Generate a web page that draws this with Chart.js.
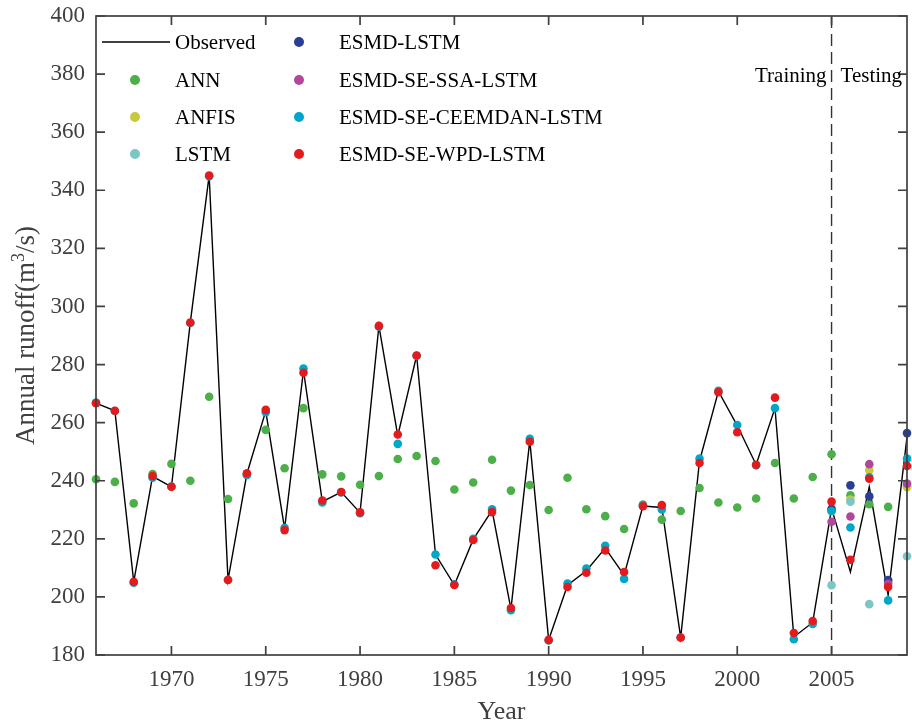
<!DOCTYPE html>
<html>
<head>
<meta charset="utf-8">
<title>Annual runoff</title>
<script src="https://cdn.jsdelivr.net/npm/chart.js@4.4.1/dist/chart.umd.min.js"></script>
<style>
  html, body { margin: 0; padding: 0; background: #fff; }
</style>
</head>
<body>
<canvas id="runoff" width="912" height="726"></canvas>
<script>
// years on the x axis and the labelled ticks
const years = [1966, 1967, 1968, 1969, 1970, 1971, 1972, 1973, 1974, 1975,
               1976, 1977, 1978, 1979, 1980, 1981, 1982, 1983, 1984, 1985,
               1986, 1987, 1988, 1989, 1990, 1991, 1992, 1993, 1994, 1995,
               1996, 1997, 1998, 1999, 2000, 2001, 2002, 2003, 2004, 2005,
               2006, 2007, 2008, 2009];
const testYears = [2005, 2006, 2007, 2008, 2009];
const yearTicks = [1970, 1975, 1980, 1985, 1990, 1995, 2000, 2005];
const runoffTicks = [180, 200, 220, 240, 260, 280, 300, 320, 340, 360, 380, 400];
const splitYear = 2005;

// annual runoff, m3/s
const observed = [266.7, 264.1, 205.2, 241.5, 237.9, 294.5, 345.1, 205.8, 242.4, 264.0,
                  223.5, 278.0, 232.8, 236.1, 229.0, 293.3, 255.5, 283.1, 214.6, 204.1,
                  219.8, 229.8, 195.8, 253.8, 185.2, 204.0, 209.0, 216.8, 207.5, 231.3,
                  230.8, 186.0, 246.8, 270.8, 259.0, 245.5, 265.0, 186.2, 191.2, 230.5,
                  208.6, 237.9, 200.6, 255.0];
const annPred = [240.5, 239.6, 232.2, 242.3, 245.8, 240.0, 268.9, 233.7, 242.0, 257.5,
                 244.3, 265.0, 242.2, 241.5, 238.6, 241.6, 247.5, 248.5, 246.8, 237.0,
                 239.4, 247.2, 236.6, 238.5, 229.9, 241.0, 230.2, 227.8, 223.4, 231.8,
                 226.6, 229.6, 237.5, 232.5, 230.8, 233.9, 246.1, 233.9, 241.3, 249.1,
                 235.0, 231.9, 231.0, 238.2];
const ceemdanPred = [266.9, 264.0, 204.9, 241.0, 238.0, 294.3, 344.8, 205.9, 242.0, 263.6,
                     223.8, 278.6, 232.5, 236.0, 228.8, 293.0, 252.7, 283.0, 214.6, 204.3,
                     220.0, 230.2, 195.4, 254.4, 185.0, 204.6, 209.8, 217.6, 206.2, 231.5,
                     230.1, 186.0, 247.6, 271.0, 259.2, 245.3, 265.0, 185.4, 190.7, 229.6,
                     223.9, 241.2, 198.8, 247.6];
const wpdPred = [266.7, 264.1, 205.2, 241.6, 237.9, 294.5, 345.1, 205.8, 242.6, 264.4,
                 223.0, 277.2, 233.2, 236.1, 229.1, 293.3, 255.9, 283.1, 210.9, 204.1,
                 219.6, 229.2, 196.2, 253.4, 185.2, 203.4, 208.3, 216.0, 208.6, 231.2,
                 231.6, 186.0, 246.1, 270.5, 256.7, 245.5, 268.6, 187.6, 191.7, 232.8,
                 212.8, 240.7, 203.4, 245.1];
// these models only show up over the testing years
const anfisPred = [229.5, 233.5, 243.6, 205.0, 237.8];
const lstmPred = [204.0, 232.8, 197.5, 205.5, 214.0];
const esmdPred = [230.3, 238.4, 234.6, 205.8, 256.4];
const ssaPred = [225.9, 227.7, 245.7, 204.5, 239.0];

const SERIF = "'Liberation Serif', 'Times New Roman', serif";
const AXIS_GREY = '#404040';

function pairs(xs, ys) {
    return xs.map((x, i) => ({ x: x, y: ys[i] }));
}

// drawn bottom to top: later models sit over earlier ones
const models = [
    { label: 'ANN', xs: years, ys: annPred, color: '#4daf4a' },
    { label: 'ANFIS', xs: testYears, ys: anfisPred, color: '#c9c93e' },
    { label: 'LSTM', xs: testYears, ys: lstmPred, color: '#7ac7c5' },
    { label: 'ESMD-LSTM', xs: testYears, ys: esmdPred, color: '#283f94' },
    { label: 'ESMD-SE-SSA-LSTM', xs: testYears, ys: ssaPred, color: '#b1479a' },
    { label: 'ESMD-SE-CEEMDAN-LSTM', xs: years, ys: ceemdanPred, color: '#00a7c9' },
    { label: 'ESMD-SE-WPD-LSTM', xs: years, ys: wpdPred, color: '#e41a1c' }
];

const datasets = [{
    label: 'Observed',
    data: pairs(years, observed),
    borderColor: '#000',
    borderWidth: 1.4,
    pointRadius: 0,
    tension: 0,
    clip: false,
    order: models.length + 1
}];
models.forEach((m, i) => {
    datasets.push({
        label: m.label,
        data: pairs(m.xs, m.ys),
        showLine: false,
        pointRadius: 4.3,
        pointBorderWidth: 0,
        pointBackgroundColor: m.color,
        pointBorderColor: m.color,
        backgroundColor: m.color,
        borderColor: m.color,
        clip: false,
        order: models.length - i
    });
});

// box, inward ticks, split line, legend and axis titles
const decorations = {
    id: 'decorations',
    beforeDatasetsDraw(chart) {
        const ctx = chart.ctx;
        const a = chart.chartArea;
        const px = chart.scales.x.getPixelForValue(splitYear);
        ctx.save();
        ctx.strokeStyle = '#333';
        ctx.lineWidth = 1.4;
        ctx.setLineDash([12, 6]);
        ctx.beginPath();
        ctx.moveTo(px, a.top);
        ctx.lineTo(px, a.bottom);
        ctx.stroke();
        ctx.restore();
    },
    afterDraw(chart) {
        const ctx = chart.ctx;
        const a = chart.chartArea;
        const xs = chart.scales.x;
        const ys = chart.scales.y;
        const tick = 9;

        ctx.save();
        ctx.strokeStyle = AXIS_GREY;
        ctx.lineWidth = 1.7;
        ctx.strokeRect(a.left, a.top, a.right - a.left, a.bottom - a.top);
        ctx.beginPath();
        yearTicks.forEach(v => {
            const p = xs.getPixelForValue(v);
            ctx.moveTo(p, a.bottom); ctx.lineTo(p, a.bottom - tick);
            ctx.moveTo(p, a.top); ctx.lineTo(p, a.top + tick);
        });
        runoffTicks.forEach(v => {
            const p = ys.getPixelForValue(v);
            ctx.moveTo(a.left, p); ctx.lineTo(a.left + tick, p);
            ctx.moveTo(a.right, p); ctx.lineTo(a.right - tick, p);
        });
        ctx.stroke();

        // period labels either side of the split
        const px = xs.getPixelForValue(splitYear);
        ctx.fillStyle = '#000';
        ctx.font = '21px ' + SERIF;
        ctx.textBaseline = 'alphabetic';
        ctx.textAlign = 'right';
        ctx.fillText('Training', px - 5, 82);
        ctx.textAlign = 'left';
        ctx.fillText('Testing', px + 9, 82);

        // two-column legend
        const rowY = [42, 80, 117, 154];
        const cols = [{ mark: 135, text: 175 }, { mark: 299, text: 339 }];
        const entries = chart.data.datasets;
        ctx.font = '21px ' + SERIF;
        ctx.textBaseline = 'middle';
        ctx.textAlign = 'left';
        entries.forEach((ds, i) => {
            const col = cols[i < 4 ? 0 : 1];
            const y = rowY[i % 4];
            if (i === 0) {
                ctx.strokeStyle = ds.borderColor;
                ctx.lineWidth = 1.6;
                ctx.beginPath();
                ctx.moveTo(102, y);
                ctx.lineTo(170, y);
                ctx.stroke();
            } else {
                ctx.fillStyle = ds.pointBackgroundColor;
                ctx.beginPath();
                ctx.arc(col.mark, y, 5, 0, Math.PI * 2);
                ctx.fill();
            }
            ctx.fillStyle = '#000';
            ctx.fillText(ds.label, col.text, y + 1);
        });

        // axis titles
        ctx.fillStyle = AXIS_GREY;
        ctx.font = '26px ' + SERIF;
        ctx.textAlign = 'center';
        ctx.textBaseline = 'middle';
        ctx.fillText('Year', (a.left + a.right) / 2, 712);

        ctx.translate(27, (a.top + a.bottom) / 2);
        ctx.rotate(-Math.PI / 2);
        const base = 'Annual runoff(m';
        const tail = '/s)';
        ctx.font = '27px ' + SERIF;
        const wBase = ctx.measureText(base).width;
        const wTail = ctx.measureText(tail).width;
        ctx.font = '18px ' + SERIF;
        const wSup = ctx.measureText('3').width;
        let x0 = -(wBase + wSup + wTail) / 2;
        ctx.textAlign = 'left';
        ctx.font = '27px ' + SERIF;
        ctx.fillText(base, x0, 0);
        ctx.font = '18px ' + SERIF;
        ctx.fillText('3', x0 + wBase, -8);
        ctx.font = '27px ' + SERIF;
        ctx.fillText(tail, x0 + wBase + wSup, 0);
        ctx.restore();
    }
};

new Chart(document.getElementById('runoff'), {
    type: 'line',
    data: { datasets: datasets },
    options: {
        responsive: false,
        devicePixelRatio: 1,
        animation: false,
        layout: { padding: { top: 16, right: 5, left: 0, bottom: 0 } },
        plugins: {
            legend: { display: false },
            tooltip: { enabled: false }
        },
        scales: {
            x: {
                type: 'linear',
                min: 1966,
                max: 2009,
                grid: { display: false, drawTicks: false },
                border: { display: false },
                afterBuildTicks: s => { s.ticks = yearTicks.map(v => ({ value: v })); },
                afterFit: s => {
                    s.height = 71;
                    s.paddingLeft = 0;
                    s.paddingRight = 0;
                },
                ticks: {
                    padding: 11,
                    color: AXIS_GREY,
                    font: { family: SERIF, size: 23 },
                    maxRotation: 0,
                    callback: v => String(v)
                }
            },
            y: {
                min: 180,
                max: 400,
                grid: { display: false, drawTicks: false },
                border: { display: false },
                afterBuildTicks: s => { s.ticks = runoffTicks.map(v => ({ value: v })); },
                afterFit: s => {
                    s.width = 96;
                    s.paddingTop = 0;
                    s.paddingBottom = 0;
                },
                ticks: {
                    padding: 11,
                    color: AXIS_GREY,
                    font: { family: SERIF, size: 23 }
                }
            }
        }
    },
    plugins: [decorations]
});
</script>
</body>
</html>
